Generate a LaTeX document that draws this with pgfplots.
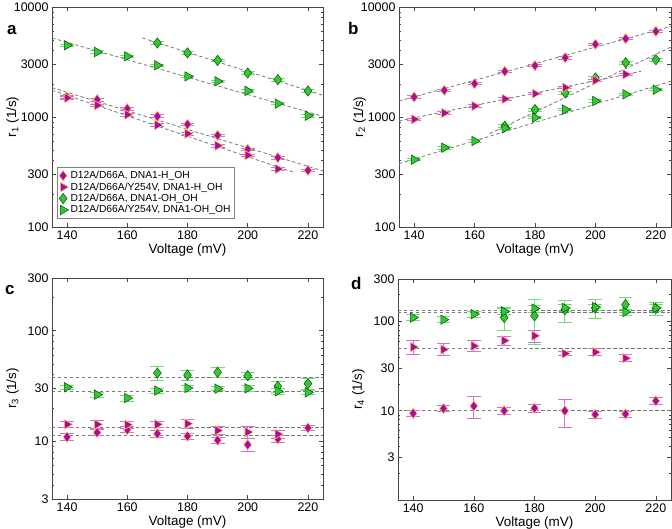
\documentclass[border=0pt]{standalone}
\usepackage{pgfplots}
\pgfplotsset{compat=1.18}
\usepackage{fontspec}
\setmainfont{Liberation Sans}
\definecolor{mag}{RGB}{172,10,165}
\definecolor{magerr}{RGB}{215,110,215}
\definecolor{magedge}{RGB}{255,200,80}
\definecolor{grn}{RGB}{45,205,45}
\definecolor{grnerr}{RGB}{110,225,110}
\definecolor{grnedge}{RGB}{20,70,20}
\definecolor{axgray}{RGB}{70,70,70}
\definecolor{fitgray}{RGB}{120,120,120}
\newcommand{\tickfont}{\fontsize{12.5}{14}\selectfont}
\newcommand{\labfont}{\fontsize{13.5}{15}\selectfont}

\pgfplotsset{
 myPanel/.style={
  scale only axis, xmin=135, xmax=225,
  xtick={140,160,180,200,220}, xticklabels={140,160,180,200,220},
  tick align=inside, major tick length=4bp, minor tick length=2bp,
  axis line style={axgray, line width=0.8pt},
  every tick/.style={axgray, line width=0.6pt},
  xticklabel style={font=\tickfont},
  yticklabel style={font=\tickfont},
  xlabel={Voltage (mV)},
  every axis x label/.style={at={(axis description cs:0.5,-0.103)}, anchor=center, font=\labfont},
  every axis y label/.style={at={(axis description cs:-0.145,0.5)}, rotate=90, anchor=center, font=\labfont},
 },
 myAB/.style={ymin=100, ymax=10000,
  ytick={100,300,1000,3000,10000}, yticklabels={100,300,1000,3000,10000},
  minor ytick={200,400,500,600,700,800,900,2000,4000,5000,6000,7000,8000,9000}},
 myMagD/.style={only marks, mark=diamond*, mark size=5.2pt,
  mark options={fill=mag, draw=magedge, line width=0.6pt},
  error bars/y dir=both, error bars/y explicit,
  error bars/error bar style={magerr, line width=0.9pt},
  error bars/error mark options={magerr, line width=0.9pt, mark size=7pt, rotate=90}},
 myMagT/.style={only marks, mark=triangle*, mark size=5.5pt,
  mark options={fill=mag, draw=magedge, line width=0.6pt, rotate=-90},
  error bars/y dir=both, error bars/y explicit,
  error bars/error bar style={magerr, line width=0.9pt},
  error bars/error mark options={magerr, line width=0.9pt, mark size=7pt, rotate=90}},
 myGrnD/.style={only marks, mark=diamond*, mark size=5.2pt,
  mark options={fill=grn, draw=grnedge, line width=0.5pt},
  error bars/y dir=both, error bars/y explicit,
  error bars/error bar style={grnerr, line width=0.9pt},
  error bars/error mark options={grnerr, line width=0.9pt, mark size=7pt, rotate=90}},
 myGrnT/.style={only marks, mark=triangle*, mark size=5.5pt,
  mark options={fill=grn, draw=grnedge, line width=0.5pt, rotate=-90},
  error bars/y dir=both, error bars/y explicit,
  error bars/error bar style={grnerr, line width=0.9pt},
  error bars/error mark options={grnerr, line width=0.9pt, mark size=7pt, rotate=90}},
 myFit/.style={fitgray, line width=0.8pt, dash pattern=on 3.5pt off 2.5pt, forget plot},
}

\begin{document}
\begin{tikzpicture}
% ---------- a ----------
\begin{axis}[myPanel, myAB, ymode=log, at={(52bp,302bp)}, anchor=south west, width=271bp, height=220bp,
  ylabel={r\textsubscript{1} (1/s)},
  legend style={at={(0.02,0.04)}, anchor=south west, draw=gray, line width=0.6pt,
    font=\fontsize{10.3}{11}\selectfont, inner sep=1.5pt, row sep=-1.5pt,
    cells={anchor=west}}]
\addplot[myMagD] coordinates {(140,1520)+-(0,40) (150,1438)+-(0,40) (160,1190)+-(0,35) (170,1014)+-(0,30) (180,857)+-(0,25) (190,681)+-(0,20) (200,508)+-(0,15) (210,427)+-(0,12) (220,327)+-(0,10)};
\addlegendentry{D12A/D66A, DNA1-H\_OH}
\addplot[myMagT] coordinates {(140,1490)+-(0,40) (150,1277)+-(0,35) (160,1050)+-(0,30) (170,845)+-(0,25) (180,705)+-(0,20) (190,549)+-(0,15) (200,449)+-(0,12) (210,337)+-(0,10)};
\addlegendentry{D12A/D66A/Y254V, DNA1-H\_OH}
\addplot[myGrnD] coordinates {(170,4710)+-(0,120) (180,3820)+-(0,100) (190,3270)+-(0,90) (200,2510)+-(0,70) (210,2185)+-(0,60) (220,1725)+-(0,50)};
\addlegendentry{D12A/D66A, DNA1-OH\_OH}
\addplot[myGrnT] coordinates {(140,4485)+-(0,120) (150,3900)+-(0,100) (160,3560)+-(0,90) (170,2950)+-(0,80) (180,2340)+-(0,60) (190,2110)+-(0,55) (200,1725)+-(0,45) (210,1323)+-(0,35) (220,1028)+-(0,30)};
\addlegendentry{D12A/D66A/Y254V, DNA1-OH\_OH}
\addplot[myFit] coordinates {(135,1849) (225,323)};
\addplot[myFit] coordinates {(135,1750) (215,316)};
\addplot[myFit] coordinates {(165,5230) (225,1575)};
\addplot[myFit] coordinates {(135,5230) (225,1014)};
\end{axis}
% ---------- b ----------
\begin{axis}[myPanel, myAB, ymode=log, at={(399bp,302bp)}, anchor=south west, width=272bp, height=220bp,
  ylabel={r\textsubscript{2} (1/s)}]
\addplot[myFit] coordinates {(135,1397) (225,6670)};
\addplot[myFit] coordinates {(135,920) (215,2600)};
\addplot[myFit] coordinates {(165,705) (225,4330)};
\addplot[myFit] coordinates {(135,377) (225,2110)};
\addplot[myMagD] coordinates {(140,1520)+-(0,40) (150,1748)+-(0,45) (160,2010)+-(0,50) (170,2600)+-(0,65) (180,2930)+-(0,75) (190,3460)+-(0,90) (200,4580)+-(0,120) (210,5150)+-(0,130) (220,6010)+-(0,150)};
\addplot[myGrnD] coordinates {(170,822)+-(0,25) (180,1167)+-(0,35) (190,1652)+-(0,50) (200,2264)+-(0,60) (210,3119)+-(0,90) (220,3320)+-(0,100)};
\addplot[myMagT] coordinates {(140,953)+-(0,25) (150,1088)+-(0,28) (160,1259)+-(0,32) (170,1459)+-(0,37) (180,1630)+-(0,40) (190,1849)+-(0,45) (200,2155)+-(0,55) (210,2443)+-(0,60)};
\addplot[myGrnT] coordinates {(140,409)+-(0,10) (150,526)+-(0,14) (160,605)+-(0,16) (170,789)+-(0,20) (180,986)+-(0,25) (190,1167)+-(0,30) (200,1397)+-(0,35) (210,1607)+-(0,40) (220,1771)+-(0,45)};
\end{axis}
% ---------- c ----------
\begin{axis}[myPanel, ymode=log, at={(52bp,30bp)}, anchor=south west, width=271bp, height=221bp,
  ymin=3, ymax=300, ytick={3,10,30,100,300}, yticklabels={3,10,30,100,300},
  minor ytick={4,5,6,7,8,9,20,40,50,60,70,80,90,200},
  ylabel={r\textsubscript{3} (1/s)}]
\addplot[myFit] coordinates {(135,37.6) (225,37.6)};
\addplot[myFit] coordinates {(135,28.3) (225,28.3)};
\addplot[myFit] coordinates {(135,13.4) (225,13.4)};
\addplot[myFit] coordinates {(135,11.3) (225,11.3)};
\addplot[myGrnD] coordinates {(170,41.4)+-(0,6) (180,39.7)+-(0,4) (190,42)+-(0,4.3) (200,39.2)+-(0,3) (210,31.4)+-(0,3.6) (220,33.2)+-(0,4)};
\addplot[myGrnT] coordinates {(140,30.8)+-(0,1.5) (150,26.4)+-(0,1.3) (160,24.6)+-(0,1.5) (170,28.7)+-(0,1.5) (180,30.3)+-(0,1.8) (190,29.9)+-(0,1.2) (200,30.1)+-(0,1.8) (210,28.3)+-(0,2) (220,27.7)+-(0,1.2)};
\addplot[myMagD] coordinates {(140,10.9)+-(0,0.8) (150,12.0)+-(0,0.8) (160,12.7)+-(0,0.8) (170,11.7)+-(0,0.8) (180,11.1)+-(0,0.7) (190,10.2)+-(0,0.7) (200,9.3)+-(0,1.2) (210,10.5)+-(0,0.7) (220,13.2)+-(0,0.8)};
\addplot[myMagT] coordinates {(140,14.2)+-(0,1.0) (150,14.2)+-(0,1.1) (160,14.1)+-(0,1.0) (170,14.2)+-(0,1.0) (180,14.4)+-(0,1.3) (190,12.5)+-(0,1.0) (200,12.1)+-(0,1.4) (210,11.6)+-(0,1.0)};
\end{axis}
% ---------- d ----------
\begin{axis}[myPanel, ymode=log, at={(398bp,29bp)}, anchor=south west, width=273bp, height=221bp,
  ymin=1, ymax=300, ytick={3,10,30,100,300}, yticklabels={3,10,30,100,300},
  minor ytick={2,4,5,6,7,8,9,20,40,50,60,70,80,90,200},
  ylabel={r\textsubscript{4} (1/s)}]
\addplot[myFit] coordinates {(135,134) (225,134)};
\addplot[myFit] coordinates {(135,126) (225,126)};
\addplot[myFit] coordinates {(135,50.5) (225,50.5)};
\addplot[myFit] coordinates {(135,10.2) (225,10.2)};
\addplot[myGrnD] coordinates {(170,111)+-(0,32) (180,116)+-(0,60) (190,136)+-(0,37) (200,142)+-(0,33) (210,155)+-(0,30) (220,140)+-(0,22)};
\addplot[myGrnT] coordinates {(140,111)+-(0,9) (150,105)+-(0,8) (160,121)+-(0,10) (170,130)+-(0,10) (180,140)+-(0,12) (190,142)+-(0,12) (200,145)+-(0,12) (210,128)+-(0,10) (220,142)+-(0,12)};
\addplot[myMagD] coordinates {(140,9.36)+-(0,0.8) (150,10.6)+-(0,0.8) (160,11.3)+-(0,3.2) (170,10)+-(0,0.8) (180,10.7)+-(0,1) (190,10)+-(0,3.5) (200,9.1)+-(0,0.8) (210,9.2)+-(0,0.7) (220,12.9)+-(0,1.2)};
\addplot[myMagT] coordinates {(140,51.8)+-(0,9) (150,48.7)+-(0,7.5) (160,53.2)+-(0,7.5) (170,61.2)+-(0,7) (180,69.2)+-(0,11) (190,43.8)+-(0,2.5) (200,45.4)+-(0,4) (210,38.8)+-(0,3.5)};
\end{axis}
% panel letters
\node[anchor=base west, inner sep=0pt, font=\fontsize{17}{19}\selectfont\bfseries] at (7bp,494bp) {a};
\node[anchor=base west, inner sep=0pt, font=\fontsize{17}{19}\selectfont\bfseries] at (348bp,494bp) {b};
\node[anchor=base west, inner sep=0pt, font=\fontsize{17}{19}\selectfont\bfseries] at (5bp,234bp) {c};
\node[anchor=base west, inner sep=0pt, font=\fontsize{17}{19}\selectfont\bfseries] at (351bp,239bp) {d};
\pgfresetboundingbox
\path[use as bounding box] (0bp,0bp) rectangle (672bp,529bp);
\end{tikzpicture}
\end{document}
